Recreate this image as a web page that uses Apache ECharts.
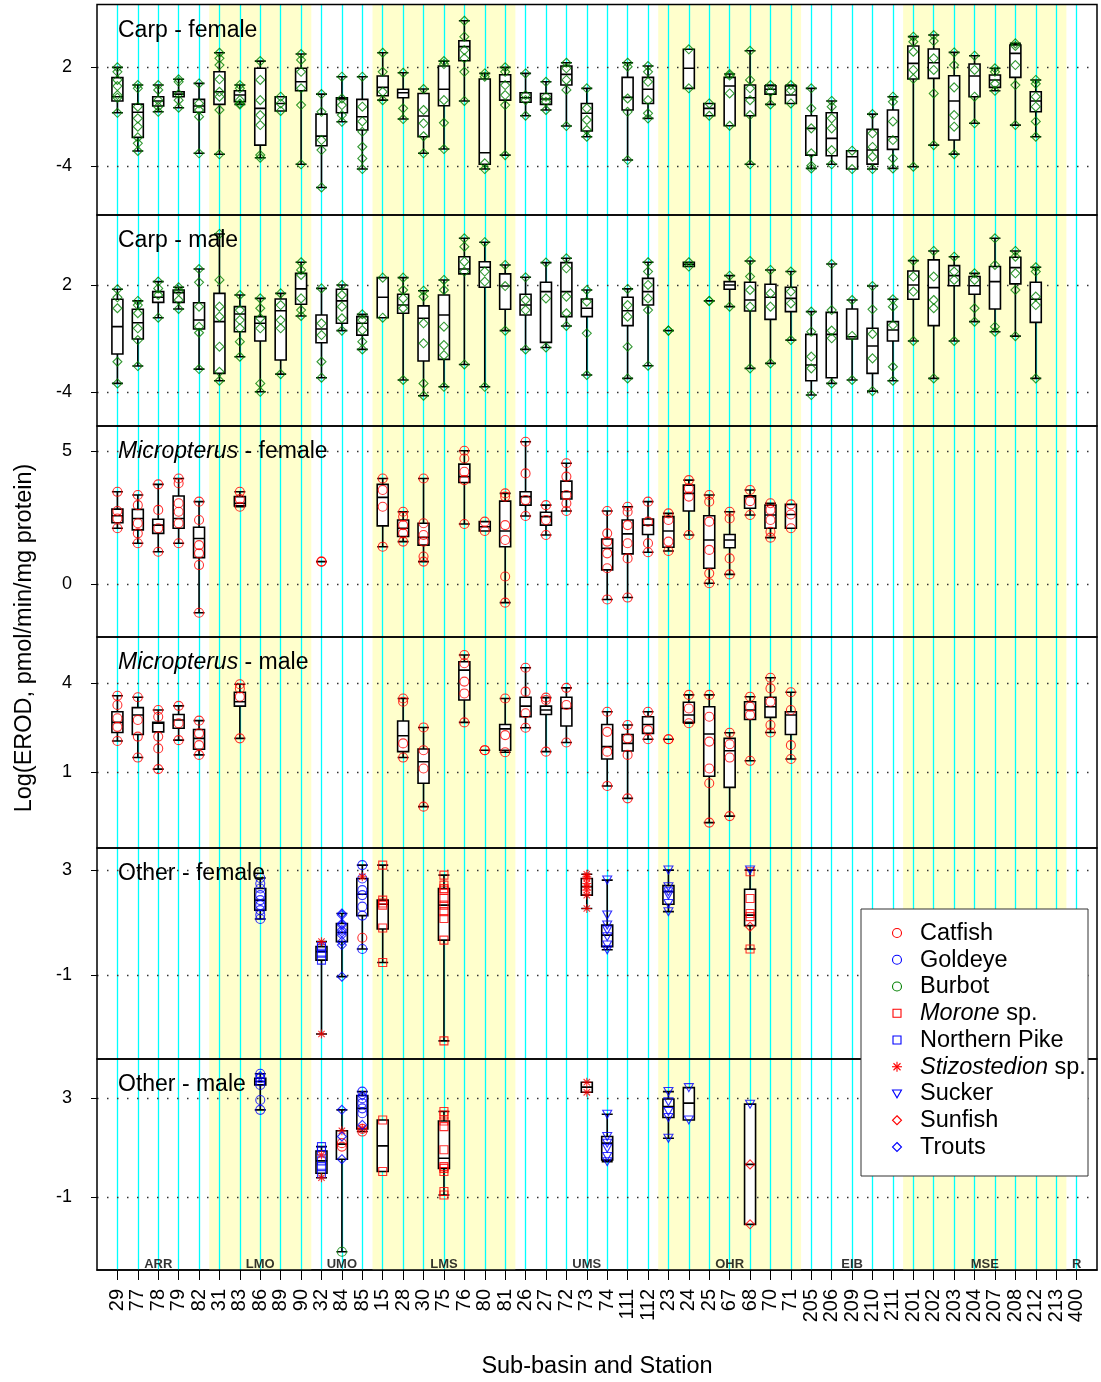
<!DOCTYPE html>
<html>
<head>
<meta charset="utf-8">
<script src="https://cdn.jsdelivr.net/npm/echarts@6/dist/echarts.min.js"></script>
<style>
html, body { margin: 0; padding: 0; background: #fff; }
#chart { width: 1101px; height: 1382px; }
</style>
</head>
<body>
<div id="chart"></div>
<script>
// Stations along the river system, grouped by sub-basin (in plotting order)
const stations = ['29','77','78','79','82','31','83','86','89','90','32','84','85',
  '15','28','30','75','76','80','81','26','27','72','73','74','111','112',
  '23','24','25','67','68','70','71','205','206','209','210','211',
  '201','202','203','204','207','208','212','213','400'];
const basinNames = ['ARR','LMO','UMO','LMS','UMS','OHR','EIB','MSE','R'];
const basinSizes = [5, 5, 3, 7, 7, 7, 5, 8, 1];

// Tick values shown on each panel's y axis
const carpFemaleTicks = [-4, 2];
const carpMaleTicks = [-4, 2];
const microFemaleTicks = [0, 5];
const microMaleTicks = [1, 4];
const otherFemaleTicks = [-1, 3];
const otherMaleTicks = [-1, 3];

// Box summaries: [station, min, Q1, median, Q3, max]
const carpFemaleBox = [
  ['29', -0.77, -0.05, 0.21, 1.37, 2.00], ['77', -3.10, -2.27, -0.74, -0.24, 0.92],
  ['78', -0.71, -0.36, -0.05, 0.21, 0.92], ['79', -0.46, 0.21, 0.37, 0.51, 1.27],
  ['82', -3.24, -0.74, -0.36, 0.05, 1.02], ['31', -3.30, -0.26, 0.51, 1.73, 2.89],
  ['83', -0.26, -0.10, 0.31, 0.57, 0.92], ['86', -3.51, -2.74, -0.50, 1.94, 2.38],
  ['89', -0.66, -0.66, -0.20, 0.21, 0.21], ['90', -3.91, 0.57, 1.12, 1.94, 2.81],
  ['32', -5.32, -2.78, -2.19, -0.85, 0.37], ['84', -1.32, -0.77, 0.07, 0.15, 1.43],
  ['85', -4.20, -1.82, -1.01, 0.05, 1.43], ['15', 0.00, 0.27, 0.78, 1.47, 2.89],
  ['28', -1.15, 0.15, 0.45, 0.66, 1.67], ['30', -3.24, -2.23, -0.97, 0.41, 0.68],
  ['75', -2.98, -0.34, 0.66, 2.08, 2.38], ['76', -0.05, 2.40, 3.26, 3.62, 4.84],
  ['80', -4.20, -3.91, -3.21, 1.29, 1.63], ['81', -3.35, 0.00, 1.12, 1.55, 2.00],
  ['26', -0.95, -0.13, 0.15, 0.45, 1.63], ['27', -0.60, -0.26, 0.07, 0.41, 1.12],
  ['72', -1.58, 0.92, 1.57, 2.08, 2.28], ['73', -2.23, -1.88, -0.80, -0.20, 0.72],
  ['111', -3.65, -0.60, 0.17, 1.39, 2.28], ['112', -1.11, -0.20, 0.66, 1.39, 2.08],
  ['24', 0.72, 0.72, 1.94, 3.10, 3.10], ['25', -0.95, -0.95, -0.50, -0.20, -0.20],
  ['67', -1.56, -1.56, 0.86, 1.39, 1.59], ['68', -3.91, -0.95, 0.15, 0.92, 3.01],
  ['70', -0.26, 0.37, 0.66, 0.88, 0.92], ['71', -0.20, -0.20, 0.31, 0.86, 0.92],
  ['205', -4.16, -3.35, -1.72, -0.95, 0.72], ['206', -3.91, -3.39, -2.33, -0.77, -0.05],
  ['209', -4.20, -4.20, -3.45, -3.08, -3.08], ['210', -4.20, -3.90, -3.04, -1.78, -0.85],
  ['211', -4.16, -3.00, -2.23, -0.60, 0.21], ['201', -4.06, 1.29, 2.24, 3.30, 3.87],
  ['202', -2.74, 1.33, 2.28, 3.12, 3.97], ['203', -3.29, -2.43, -0.05, 1.49, 2.91],
  ['204', -1.41, 0.21, 1.47, 2.20, 2.71], ['207', 0.57, 0.78, 1.23, 1.53, 1.94],
  ['208', -1.52, 1.39, 2.85, 3.36, 3.46], ['212', -2.23, -0.71, -0.05, 0.51, 1.23]
];
// Individual fish between the whisker ends: [station, values...]
const carpFemalePts = [
  ['29', 1.73, 1.23, 0.86, 0.31, 0.15], ['77', 0.72, -0.40, -1.11, -1.62, -2.27, -2.63],
  ['78', 0.62, 0.00, -0.40], ['79', 1.12, 0.37, 0.00], ['82', -0.20, -0.60, -1.01],
  ['31', 2.55, 2.14, 1.27, 0.51, 0.21, -0.60], ['83', 0.72, 0.00, -0.20],
  ['86', 1.23, 0.00, -0.91, -1.52, -3.35], ['89', -0.20], ['90', 2.45, 1.73, 0.72, -0.30],
  ['32', -0.71, -2.43, -3.04], ['84', 0.10, -0.30, -0.91], ['85', -0.40, -1.30, -1.93, -2.84, -3.55],
  ['15', 1.73, 0.51], ['28', -0.50], ['30', -0.60, -1.41, -2.20], ['75', 2.20, 0.00, -1.38],
  ['76', 3.87, 3.05, 2.55, 1.73], ['80', 1.43, -3.85], ['81', 1.73, 0.92, 0.31, -0.30],
  ['26', 0.31, 0.00], ['27', 0.21, -0.10], ['72', 1.94, 1.23, 0.62], ['73', -0.50, -1.21, -1.82],
  ['111', 2.04, 0.10, -0.71], ['112', 1.73, 1.12, 0.00, -0.80], ['67', 1.50, 0.41],
  ['68', 1.23, 0.72, 0.00, -0.91], ['70', 0.50], ['71', 0.60],
  ['205', -0.50, -1.72, -3.24, -4.00], ['206', -0.40, -1.11, -1.72, -3.04],
  ['210', -2.02, -2.85, -3.45], ['211', -0.10, -1.30, -2.43, -3.55],
  ['201', 3.56, 2.95, 1.84, 1.30], ['202', 3.60, 2.55, 1.84, 0.41],
  ['203', 2.14, 0.78, -0.91, -1.62], ['204', 1.84, 0.21], ['207', 1.73, 1.00],
  ['208', 3.30, 2.14, 0.92], ['212', 1.00, 0.21, -0.40, -1.30]
];

const carpMaleBox = [
  ['29', -3.50, -1.86, -0.33, 1.20, 1.76], ['77', -2.53, -1.02, -0.11, 0.64, 1.11],
  ['78', 0.17, 1.03, 1.31, 1.63, 2.19], ['79', 0.66, 1.03, 1.57, 1.72, 1.87],
  ['82', -2.70, -0.46, 0.04, 1.01, 2.89], ['31', -3.35, -2.94, -0.05, 1.53, 4.85],
  ['83', -2.01, -0.61, 0.38, 0.79, 1.44], ['86', -3.97, -1.13, -0.14, 0.23, 1.25],
  ['89', -2.98, -2.19, 0.56, 1.22, 1.53], ['90', 0.27, 0.92, 1.78, 2.65, 3.27],
  ['32', -3.18, -1.23, -0.46, 0.32, 1.81], ['84', -0.55, -0.14, 1.11, 1.76, 2.00],
  ['85', -1.60, -0.80, -0.14, 0.23, 0.36], ['15', 0.17, 0.17, 1.31, 2.41, 2.41],
  ['28', -3.31, 0.42, 0.88, 1.48, 2.41], ['30', -4.19, -2.25, 0.14, 0.83, 1.68],
  ['75', -3.69, -2.16, 0.32, 1.44, 2.28], ['76', -2.44, 2.62, 2.89, 3.58, 4.61],
  ['80', -3.69, 1.87, 2.99, 3.30, 4.39], ['81', -0.55, 0.64, 1.94, 2.62, 3.12],
  ['26', -1.60, 0.32, 0.88, 1.48, 2.43], ['27', -1.49, -1.21, 1.63, 2.15, 3.25],
  ['72', -0.29, 0.23, 1.63, 3.25, 3.49], ['73', -3.03, 0.23, 0.70, 1.22, 1.72],
  ['111', -3.22, -0.27, 0.56, 1.31, 1.78], ['112', -2.51, 0.88, 1.63, 2.37, 3.27],
  ['23', -0.55, -0.55, -0.55, -0.55, -0.55], ['24', 3.03, 3.03, 3.16, 3.27, 3.27],
  ['25', 1.11, 1.11, 1.11, 1.11, 1.11], ['67', 0.79, 1.76, 2.00, 2.19, 2.52],
  ['68', -2.66, 0.55, 1.16, 2.15, 3.34], ['70', -2.38, 0.08, 1.31, 2.04, 2.84],
  ['71', -1.08, 0.51, 1.25, 1.87, 2.75], ['205', -4.15, -3.35, -2.47, -0.76, 0.51],
  ['206', -3.50, -3.18, -0.76, 0.47, 3.17], ['209', -3.31, -1.02, -0.89, 0.66, 1.16],
  ['210', -3.93, -2.94, -1.41, -0.42, 1.94], ['211', -3.35, -1.13, -0.52, -0.05, 1.20],
  ['201', -1.13, 1.20, 2.00, 2.78, 3.36], ['202', -3.22, -0.27, 1.85, 3.40, 3.90],
  ['203', -1.13, 1.96, 2.52, 3.08, 3.58], ['204', -0.05, 1.48, 1.96, 2.47, 2.65],
  ['207', -0.61, 0.66, 2.19, 3.03, 4.61], ['208', -0.86, 2.06, 2.97, 3.55, 3.90],
  ['212', -3.22, -0.09, 1.20, 2.15, 2.99]
];
const carpMalePts = [
  ['29', 1.31, 0.70, -2.29], ['77', 0.88, 0.42, -0.42, -1.08], ['78', 1.81, 1.44],
  ['79', 1.66, 1.16], ['82', 2.15, 0.79, -0.33, -0.67], ['31', 2.28, 0.79, 0.23, -1.45, -2.85],
  ['83', 0.60, 0.04, -0.42, -1.17], ['86', 0.70, 0.14, -0.42, -3.50], ['89', 0.88, 0.04, -0.42],
  ['90', 2.84, 2.56, 1.25, 0.60], ['32', -0.14, -0.80, -2.29], ['84', 1.44, 0.79, 0.14],
  ['85', 0.04, -0.52, -1.17], ['28', 1.72, 1.25, 0.70], ['30', 1.35, -0.14, -1.26, -3.50],
  ['75', 1.72, -0.33, -1.36, -1.92], ['76', 4.14, 3.30, 2.75], ['80', 2.75, 2.19],
  ['81', 1.94], ['26', 1.16, 0.60], ['27', 1.25], ['72', 2.93, 1.35, 0.42], ['73', 1.07, -0.70],
  ['111', 0.88, 0.23, -1.45], ['112', 2.75, 2.00, 1.25, 0.60], ['68', 2.47, 1.72, 0.79],
  ['70', 1.53, 0.79], ['71', 1.63, 0.97], ['205', -0.61, -2.00, -2.66], ['206', 0.60, -0.55, -0.98],
  ['209', -0.85], ['210', 0.64, -0.74, -2.10], ['211', 0.79, -0.24, -2.57], ['201', 2.47, 1.63],
  ['202', 2.47, 1.16, 0.70], ['203', 2.75, 2.28], ['204', 2.28, 0.70], ['207', 3.12, -0.33],
  ['208', 3.58, 2.65, 1.72], ['212', 2.75, 1.35, 0.88]
];

const microFemaleBox = [
  ['29', 2.09, 2.30, 2.56, 2.81, 3.46], ['77', 1.53, 2.03, 2.46, 2.80, 3.34],
  ['78', 1.21, 1.90, 2.21, 2.43, 3.74], ['79', 1.53, 2.09, 2.46, 3.30, 3.96],
  ['82', -1.08, 0.99, 1.71, 2.13, 3.09], ['83', 2.90, 2.93, 3.03, 3.28, 3.46],
  ['32', 0.84, 0.84, 0.84, 0.84, 0.84], ['15', 1.40, 2.18, 3.25, 3.74, 3.96],
  ['28', 1.59, 1.78, 2.09, 2.40, 2.71], ['30', 0.84, 1.46, 1.75, 2.28, 3.96],
  ['76', 2.25, 3.81, 4.03, 4.50, 5.00], ['80', 1.99, 1.99, 2.15, 2.34, 2.34],
  ['81', -0.70, 1.40, 1.99, 3.11, 3.40], ['26', 2.55, 2.96, 3.28, 3.46, 5.34],
  ['27', 1.84, 2.21, 2.53, 2.69, 2.96], ['72', 2.74, 3.19, 3.46, 3.86, 4.53],
  ['74', -0.58, 0.53, 1.34, 1.69, 2.74], ['111', -0.51, 1.13, 1.88, 2.40, 2.90],
  ['112', 1.19, 1.86, 2.21, 2.44, 3.09], ['23', 1.24, 1.38, 1.99, 2.53, 2.65],
  ['24', 1.84, 2.74, 3.40, 3.71, 3.90], ['25', 0.03, 0.59, 1.65, 2.56, 3.34],
  ['67', 0.36, 1.36, 1.65, 1.86, 2.71], ['68', 2.59, 2.84, 3.28, 3.31, 3.53],
  ['70', 1.74, 2.09, 2.59, 2.96, 3.03], ['71', 2.09, 2.09, 2.61, 2.99, 2.99]
];
const microFemalePts = [
  ['29', 2.74, 2.46], ['77', 2.96, 2.28, 1.90], ['78', 2.78, 2.09], ['79', 3.78, 3.03, 2.71, 2.28],
  ['82', 2.40, 1.46, 1.15, 0.71], ['83', 3.19], ['15', 3.53, 2.90], ['28', 2.53, 2.21, 1.90],
  ['30', 2.28, 1.84, 1.59, 1.03], ['76', 4.71, 4.21, 3.90], ['81', 3.28, 2.21, 1.65, 0.28],
  ['26', 4.15, 3.15], ['27', 2.40], ['72', 4.03, 3.34, 3.03], ['74', 1.90, 1.59, 1.15, 0.59],
  ['111', 2.71, 2.21, 1.53, 0.96], ['112', 2.34, 1.53], ['23', 2.40, 1.59], ['24', 3.59, 3.28],
  ['25', 3.09, 2.34, 1.28, 0.40], ['67', 2.46, 0.96], ['68', 3.11], ['70', 2.78, 2.40, 1.96],
  ['71', 2.61]
];

const microMaleBox = [
  ['29', 2.05, 2.34, 2.68, 3.04, 3.58], ['77', 1.49, 2.27, 2.93, 3.18, 3.53],
  ['78', 1.10, 2.36, 2.65, 2.68, 3.10], ['79', 2.08, 2.48, 2.76, 2.95, 3.24],
  ['82', 1.58, 1.77, 2.14, 2.44, 2.74], ['83', 2.14, 3.23, 3.38, 3.70, 3.97],
  ['28', 1.49, 1.69, 2.23, 2.73, 3.49], ['30', -0.17, 0.62, 1.35, 1.78, 2.51],
  ['76', 2.68, 3.44, 4.45, 4.73, 4.96], ['80', 1.74, 1.74, 1.74, 1.74, 1.74],
  ['81', 1.67, 1.74, 2.46, 2.61, 3.49], ['26', 2.50, 2.87, 3.23, 3.53, 4.53],
  ['27', 1.69, 2.95, 3.10, 3.23, 3.52], ['72', 2.00, 2.56, 3.15, 3.53, 3.85],
  ['74', 0.53, 1.44, 1.86, 2.61, 3.04], ['111', 0.11, 1.71, 1.97, 2.27, 2.59],
  ['112', 2.11, 2.31, 2.61, 2.87, 3.04], ['23', 2.11, 2.11, 2.11, 2.11, 2.11],
  ['24', 2.65, 2.68, 2.93, 3.36, 3.61], ['25', -0.71, 0.86, 2.29, 3.21, 3.61],
  ['67', -0.49, 0.48, 1.72, 2.14, 2.33], ['68', 1.38, 2.78, 3.10, 3.38, 3.55],
  ['70', 2.34, 2.85, 3.21, 3.53, 4.19], ['71', 1.44, 2.27, 2.93, 3.04, 3.70]
];
const microMalePts = [
  ['29', 3.27, 2.82, 2.53], ['77', 2.76, 2.20], ['78', 2.87, 2.20, 1.80], ['79', 2.65],
  ['82', 2.31, 1.91], ['83', 3.83, 3.55], ['28', 3.38, 1.97], ['30', 1.74, 1.12],
  ['76', 4.68, 4.06, 3.66], ['81', 2.25], ['26', 3.72, 2.99], ['27', 3.44], ['72', 3.27],
  ['74', 2.36, 1.69], ['111', 2.14, 1.58], ['112', 2.42], ['24', 3.15],
  ['25', 2.87, 2.03, 1.12, 0.62], ['67', 1.94, 1.49], ['68', 3.21, 2.93],
  ['70', 3.83, 3.38, 2.59], ['71', 3.10, 1.91]
];

// Other species groups
const species = ['Catfish', 'Goldeye', 'Burbot', 'Morone sp.', 'Northern Pike',
  'Stizostedion sp.', 'Sucker', 'Sunfish', 'Trouts'];

const otherFemaleBox = [
  ['86', 1.14, 1.48, 1.86, 2.30, 2.70], ['32', -3.23, -0.42, -0.10, 0.09, 0.28],
  ['84', -1.05, 0.28, 0.63, 0.97, 1.35], ['85', 0.00, 1.27, 2.08, 2.68, 3.19],
  ['15', -0.51, 0.76, 1.70, 1.86, 3.19], ['75', -3.49, 0.34, 1.67, 2.30, 2.81],
  ['73', 1.54, 2.05, 2.37, 2.68, 2.84], ['74', -0.03, 0.09, 0.53, 0.91, 2.62],
  ['23', 1.42, 1.70, 2.18, 2.41, 3.00], ['68', 0.00, 0.89, 1.29, 2.27, 3.00]
];
// [station, species, values...]
const otherFemalePts = [
  ['86', 'Goldeye', 2.70, 2.49, 2.30, 2.05, 1.86, 1.67, 1.48, 1.30, 1.14],
  ['32', 'Stizostedion sp.', 0.28, -3.23],
  ['32', 'Northern Pike', 0.09, 0.03, -0.16, -0.42],
  ['84', 'Trouts', 1.35, 1.29, 0.97, 0.91, 0.72, 0.63, 0.53, 0.28, 0.15, -1.05],
  ['85', 'Goldeye', 3.19, 2.68, 2.24, 2.05, 1.61, 1.27, 0.00],
  ['85', 'Catfish', 0.43],
  ['85', 'Stizostedion sp.', 2.75],
  ['15', 'Morone sp.', 3.19, 1.86, 1.75, 1.67, 0.80, -0.51],
  ['75', 'Morone sp.', 2.81, 2.43, 2.30, 2.24, 1.92, 1.67, 1.42, 1.16, 0.34, -3.49],
  ['73', 'Stizostedion sp.', 2.84, 2.75, 2.68, 2.49, 2.37, 2.24, 2.05, 1.54],
  ['74', 'Sucker', 2.62, 1.29, 0.91, 0.72, 0.47, 0.15, -0.03],
  ['23', 'Sucker', 3.00, 2.37, 2.18, 2.05, 1.73, 1.42],
  ['68', 'Sucker', 3.00],
  ['68', 'Morone sp.', 2.94, 1.92, 1.35, 1.23, 0.00],
  ['68', 'Sunfish', 0.85]
];

const otherMaleBox = [
  ['86', 2.53, 3.54, 3.68, 3.81, 3.99], ['32', -0.22, -0.04, 0.46, 0.86, 1.04],
  ['84', -3.22, 0.53, 1.14, 1.68, 2.53], ['85', 1.65, 1.76, 2.59, 3.11, 3.27],
  ['15', 0.03, 0.03, 1.07, 2.12, 2.12], ['75', -0.92, 0.16, 0.57, 2.08, 2.46],
  ['73', 3.24, 3.24, 3.45, 3.65, 3.65], ['74', 0.43, 0.50, 1.18, 1.45, 2.35],
  ['23', 1.38, 2.22, 2.66, 2.97, 3.27], ['24', 2.12, 2.12, 2.80, 3.43, 3.43],
  ['68', -2.11, -2.11, 0.32, 2.76, 2.76]
];
const otherMalePts = [
  ['86', 'Goldeye', 3.99, 3.81, 3.68, 3.54, 2.93, 2.53],
  ['86', 'Trouts', 3.90],
  ['32', 'Northern Pike', 1.04, 0.86, 0.46, 0.23, -0.04],
  ['32', 'Stizostedion sp.', 0.70, -0.22],
  ['84', 'Trouts', 2.53, 1.45, 0.53],
  ['84', 'Stizostedion sp.', 1.68],
  ['84', 'Catfish', 1.18, 1.04],
  ['84', 'Burbot', -3.22],
  ['85', 'Goldeye', 3.27, 3.00, 2.80, 2.59, 2.39],
  ['85', 'Trouts', 3.11, 1.92],
  ['85', 'Stizostedion sp.', 1.78],
  ['85', 'Catfish', 1.76, 1.65],
  ['15', 'Morone sp.', 2.12, 0.03],
  ['75', 'Morone sp.', 2.46, 2.32, 2.08, 1.85, 0.91, 0.23, 0.16, 0.03, -0.78, -0.92],
  ['73', 'Stizostedion sp.', 3.65, 3.24],
  ['74', 'Sucker', 2.35, 1.45, 1.18, 0.97, 0.64, 0.43],
  ['23', 'Sucker', 3.27, 2.86, 2.46, 2.22, 1.38],
  ['24', 'Sucker', 3.43, 2.12],
  ['68', 'Sucker', 2.76],
  ['68', 'Sunfish', 0.32, -2.11]
];

// ---- styling and layout ----
const FONT = 'Liberation Sans, Arial, Helvetica, sans-serif';
const RED = '#ff0000', BLUE = '#0000ff', GREEN = '#008000';
const ASTER = 'path://M5,0L5,10M0,5L10,5M1.46,1.46L8.54,8.54M1.46,8.54L8.54,1.46';
const TRI_DOWN = 'path://M0,0L10,0L5,8.66Z';
const speciesMark = {
  'Catfish': ['circle', RED], 'Goldeye': ['circle', BLUE], 'Burbot': ['circle', GREEN],
  'Morone sp.': ['rect', RED], 'Northern Pike': ['rect', BLUE],
  'Stizostedion sp.': [ASTER, RED], 'Sucker': [TRI_DOWN, BLUE],
  'Sunfish': ['diamond', RED], 'Trouts': ['diamond', BLUE]
};

const panels = [
  { title: 'Carp - female', box: carpFemaleBox, pts: carpFemalePts, ticks: carpFemaleTicks,
    top: 4.5, height: 210.5, min: -7.0, max: 5.83, mark: ['diamond', GREEN] },
  { title: 'Carp - male', box: carpMaleBox, pts: carpMalePts, ticks: carpMaleTicks,
    top: 215, height: 211, min: -5.88, max: 5.91, mark: ['diamond', GREEN] },
  { title: '{i|Micropterus} - female', box: microFemaleBox, pts: microFemalePts, ticks: microFemaleTicks,
    top: 426, height: 211, min: -1.99, max: 5.93, mark: ['circle', RED] },
  { title: '{i|Micropterus} - male', box: microMaleBox, pts: microMalePts, ticks: microMaleTicks,
    top: 637, height: 211, min: -1.57, max: 5.57, mark: ['circle', RED] },
  { title: 'Other - female', box: otherFemaleBox, pts: otherFemalePts, ticks: otherFemaleTicks,
    top: 848, height: 211, min: -4.18, max: 3.84, bySpecies: true },
  { title: 'Other - male', box: otherMaleBox, pts: otherMalePts, ticks: otherMaleTicks,
    top: 1059, height: 211, min: -3.96, max: 4.59, bySpecies: true }
];

const pos = st => stations.indexOf(st) + 1;
const positions = stations.map((s, i) => i + 1);

// sub-basin spans: alternate ones are shaded
const shaded = [];
const basinCenters = [];
let start = 0;
basinSizes.forEach((n, k) => {
  const first = start + 1, last = start + n;
  if (k % 2 === 1) shaded.push([first - 0.5, last + 0.5]);
  basinCenters.push((first + last) / 2);
  start += n;
});

const hollow = (symbol, color) => ({
  symbol: symbol,
  symbolSize: symbol === TRI_DOWN ? [9, 8] : (symbol === 'rect' ? 8 : 9),
  itemStyle: { color: 'rgba(0,0,0,0)', borderColor: color, borderWidth: 1.1 }
});

const grid = [], xAxis = [], yAxis = [], series = [], title = [];
panels.forEach((pd, k) => {
  grid.push({ left: 97, right: 4, top: pd.top, height: pd.height, show: true, z: 6,
    outerBoundsMode: 'none',
    borderColor: '#000', borderWidth: 1.5, backgroundColor: 'rgba(0,0,0,0)' });
  const bottom = k === panels.length - 1;
  xAxis.push({
    gridIndex: k, type: 'value', min: 0, max: 49, interval: 1, show: bottom,
    axisLine: { show: bottom, onZero: false, lineStyle: { color: '#000', width: 1.5 } },
    axisTick: { show: bottom, customValues: positions, length: 10, lineStyle: { color: '#000', width: 1 } },
    axisLabel: { show: bottom, customValues: positions, rotate: 90, margin: 19,
      showMinLabel: true, showMaxLabel: true, hideOverlap: false,
      fontSize: 20, color: '#000', fontFamily: FONT,
      formatter: v => (v >= 1 && v <= stations.length ? stations[v - 1] : '') },
    splitLine: { show: false },
    name: bottom ? 'Sub-basin and Station' : '', nameLocation: 'middle', nameGap: 85,
    nameTextStyle: { fontSize: 23.5, color: '#000', fontFamily: FONT }
  });
  yAxis.push({
    gridIndex: k, type: 'value', min: pd.min, max: pd.max,
    axisLine: { show: false, onZero: false },
    axisTick: { show: true, customValues: pd.ticks, length: 6, lineStyle: { color: '#000' } },
    axisLabel: { customValues: pd.ticks, margin: 25, fontSize: 18, color: '#000', fontFamily: FONT },
    splitLine: { show: false }
  });
  title.push({
    text: pd.title, left: 118, top: pd.top + 14.5, padding: 0,
    textStyle: { fontSize: 23, fontWeight: 'normal', color: '#000', fontFamily: FONT,
      rich: { i: { fontStyle: 'italic', fontSize: 23, color: '#000', fontFamily: FONT } } }
  });

  // shaded sub-basins
  series.push({
    type: 'scatter', xAxisIndex: k, yAxisIndex: k, data: [], silent: true, z: 0,
    markArea: { silent: true, z: 0.5, itemStyle: { color: '#ffffcc' },
      data: shaded.map(([a, b]) => [{ xAxis: a }, { xAxis: b }]) }
  });
  // station guide lines and dotted reference levels
  series.push({
    type: 'scatter', xAxisIndex: k, yAxisIndex: k, data: [], silent: true, z: 1,
    markLine: { silent: true, z: 1, symbol: ['none', 'none'], label: { show: false }, animation: false,
      data: positions.map(p => ({ xAxis: p, lineStyle: { color: '#00ffff', width: 1.3, type: 'solid' } }))
        .concat(pd.ticks.map(t => ({ yAxis: t, lineStyle: { color: '#333', width: 1.4, type: [1.5, 8.5] } }))) }
  });
  // boxes
  series.push({
    type: 'boxplot', xAxisIndex: k, yAxisIndex: k, z: 2, silent: true, boxWidth: [11, 11],
    itemStyle: { color: '#ffffff', borderColor: '#000', borderWidth: 1.6 },
    emphasis: { disabled: true },
    data: pd.box.map(b => [pos(b[0]), b[1], b[2], b[3], b[4], b[5]])
  });
  // individual fish
  if (!pd.bySpecies) {
    const data = [];
    pd.box.forEach(b => { data.push([pos(b[0]), b[1]]); data.push([pos(b[0]), b[5]]); });
    pd.pts.forEach(r => r.slice(1).forEach(v => data.push([pos(r[0]), v])));
    series.push(Object.assign({ type: 'scatter', xAxisIndex: k, yAxisIndex: k, z: 3, silent: true, data: data },
      hollow(pd.mark[0], pd.mark[1])));
  } else {
    species.forEach(sp => {
      const data = [];
      pd.pts.filter(r => r[1] === sp).forEach(r => r.slice(2).forEach(v => data.push([pos(r[0]), v])));
      if (!data.length) return;
      const m = speciesMark[sp];
      series.push(Object.assign({ type: 'scatter', name: sp, xAxisIndex: k, yAxisIndex: k, z: 3, silent: true, data: data },
        hollow(m[0], m[1])));
    });
  }
});

// sub-basin names along the bottom of the last panel
series.push({
  type: 'scatter', xAxisIndex: 5, yAxisIndex: 5, z: 4, silent: true, symbolSize: 1,
  itemStyle: { color: 'rgba(0,0,0,0)' },
  data: basinCenters.map(c => [c, -3.72]),
  label: { show: true, position: 'inside', formatter: p => basinNames[p.dataIndex],
    fontSize: 13, fontWeight: 'bold', color: '#000', fontFamily: FONT }
});

// legend box for the other species
const LZ = 100;
const legendTop = 933, legendStep = 26.75, symX = 897;
const legendEls = [{
  type: 'rect', z: LZ, shape: { x: 861, y: 909, width: 227, height: 267 },
  style: { fill: '#fff', stroke: '#333', lineWidth: 1 }
}];
species.forEach((sp, k) => {
  const cy = legendTop + k * legendStep;
  const [sym, col] = speciesMark[sp];
  const st = { fill: 'none', stroke: col, lineWidth: 1.1 };
  if (sym === 'circle') legendEls.push({ type: 'circle', z: LZ + 1, shape: { cx: symX, cy: cy, r: 4.5 }, style: st });
  else if (sym === 'rect') legendEls.push({ type: 'rect', z: LZ + 1, shape: { x: symX - 4, y: cy - 4, width: 8, height: 8 }, style: st });
  else if (sym === 'diamond') legendEls.push({ type: 'polygon', z: LZ + 1, shape: { points: [[symX, cy - 4.5], [symX + 4.5, cy], [symX, cy + 4.5], [symX - 4.5, cy]] }, style: st });
  else if (sym === TRI_DOWN) legendEls.push({ type: 'polygon', z: LZ + 1, shape: { points: [[symX - 4.5, cy - 3.5], [symX + 4.5, cy - 3.5], [symX, cy + 4.3]] }, style: st });
  else {
    [[0, -5, 0, 5], [-5, 0, 5, 0], [-3.5, -3.5, 3.5, 3.5], [-3.5, 3.5, 3.5, -3.5]].forEach(l =>
      legendEls.push({ type: 'line', z: LZ + 1, shape: { x1: symX + l[0], y1: cy + l[1], x2: symX + l[2], y2: cy + l[3] }, style: { stroke: col, lineWidth: 1.1 } }));
  }
  const label = sp.endsWith(' sp.') ? '{i|' + sp.slice(0, -4) + '} sp.' : sp;
  legendEls.push({
    type: 'text', z: LZ + 1, x: 920, y: cy + 0.5,
    style: { text: label, fontSize: 23.5, fontFamily: FONT, fill: '#000', verticalAlign: 'middle', align: 'left',
      rich: { i: { fontStyle: 'italic', fontSize: 23.5, fontFamily: FONT, fill: '#000' } } }
  });
});

const chart = echarts.init(document.getElementById('chart'), null, { renderer: 'canvas' });
chart.setOption({
  animation: false,
  backgroundColor: '#ffffff',
  title: title,
  grid: grid,
  xAxis: xAxis,
  yAxis: yAxis,
  series: series,
  graphic: {
    zlevel: 1,
    elements: legendEls.concat([
      { type: 'text', z: LZ, x: 25, y: 638, rotation: Math.PI / 2,
        style: { text: 'Log(EROD, pmol/min/mg protein)', fontSize: 23.5, fontFamily: FONT, fill: '#000',
          align: 'center', verticalAlign: 'middle' } }
    ])
  }
});
</script>
</body>
</html>
